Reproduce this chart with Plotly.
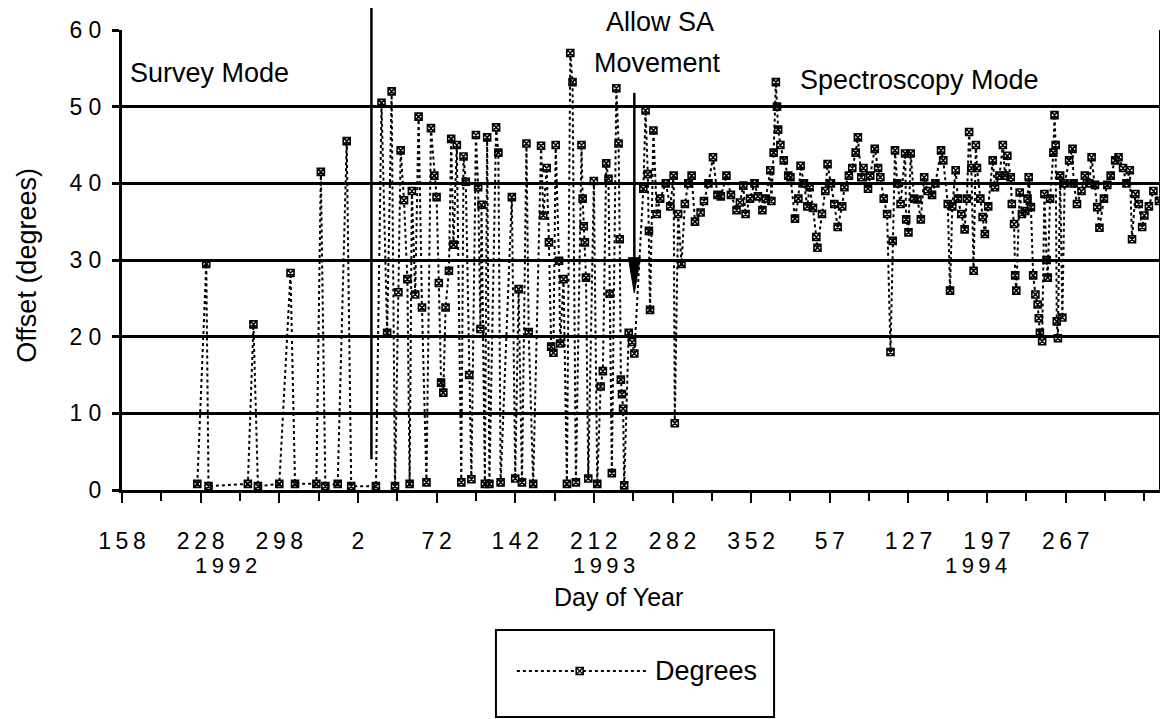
import plotly.graph_objects as go

# Day index = days elapsed since 1992 day-of-year 158
days = [
    67, 75, 77, 112, 117, 121, 140, 150, 154, 173, 177, 181, 192, 200, 204,
    226, 231, 236, 240, 243, 246, 248, 251, 254, 256, 258, 261, 264, 267, 271,
    275, 278, 280, 282, 284, 286, 288, 291, 293, 295, 298, 302, 304, 306, 309,
    311, 315, 317, 319, 320, 323, 325, 327, 333, 335, 337, 347, 350, 353, 356,
    360, 362, 366, 373, 375, 378, 380, 382, 384, 386, 389, 390, 393, 396, 399,
    401, 404, 409, 410, 411, 412, 413, 415, 420, 423, 426, 428, 431, 433, 434,
    436, 440, 442, 443, 444, 445, 446, 447, 451, 454, 456,
    464, 466, 468, 469, 470, 473, 476, 479, 484, 488, 491, 492, 495, 498, 501,
    504, 507, 510, 515, 518, 522, 526, 530, 533, 538, 542, 547, 550, 553, 555,
    559, 563, 566, 570, 573, 577, 578, 580, 582, 583, 584, 586, 589, 593, 595,
    599, 602, 604, 607, 610, 612, 615, 618, 619, 623, 626, 628, 631, 634, 637,
    641, 643, 647, 650, 653, 655, 658, 660, 664, 666, 670, 673, 675, 678, 681,
    684, 686, 688, 690, 693, 697, 698, 700, 702, 705, 708, 711, 714, 717, 721,
    724, 729, 731, 735, 737, 739, 742, 744, 747, 750, 752, 754, 756, 758, 760,
    761, 764, 766, 768, 771, 775, 777, 781, 784, 786, 788, 791, 792, 794, 795,
    796, 799, 801, 804, 806, 807, 809, 811, 813, 815, 816, 817, 819, 821, 823,
    824, 826, 829, 830, 831, 832, 833, 835, 837, 839, 843, 846, 847, 850, 854,
    857, 861, 863, 866, 868, 870, 874, 877, 880, 884, 887, 891, 894, 897, 899,
    902, 905, 908, 910, 914, 918, 923,
]
offset_deg = [
    0.8, 29.5, 0.5, 0.8, 21.6, 0.5, 0.8, 28.3, 0.8, 0.8, 41.5, 0.5, 0.8, 45.5, 0.5,
    0.5, 50.5, 20.5, 52.0, 0.5, 25.8, 44.3, 37.8, 27.5, 0.8, 39.0, 25.5, 48.7, 23.8, 1.0,
    47.2, 41.0, 38.2, 27.0, 14.0, 12.7, 23.8, 28.6, 45.8, 32.0, 45.0, 1.0, 43.5, 40.2, 15.0,
    1.4, 46.3, 39.5, 21.0, 37.2, 0.8, 46.0, 0.8, 47.3, 44.0, 1.0, 38.2, 1.5, 26.2, 1.0,
    45.2, 20.6, 0.8, 44.9, 35.8, 42.0, 32.3, 18.7, 17.9, 45.0, 29.9, 19.1, 27.5, 0.8, 57.0,
    53.2, 1.0, 45.0, 38.0, 34.4, 32.3, 27.7, 1.5, 40.3, 0.8, 13.5, 15.5, 42.6, 40.6, 25.6,
    2.2, 52.4, 45.2, 32.7, 14.4, 12.5, 10.6, 0.6, 20.5, 19.3, 17.8,
    39.3, 49.5, 41.2, 33.8, 23.5, 46.9, 36.0, 38.0, 40.0, 37.0, 41.0, 8.7, 36.0, 29.5, 37.3,
    40.0, 41.0, 35.0, 36.2, 37.7, 40.0, 43.4, 38.5, 38.3, 41.0, 38.5, 36.5, 37.5, 39.7, 36.0,
    38.0, 40.0, 38.3, 36.5, 38.0, 41.7, 37.7, 44.0, 53.2, 50.0, 47.0, 45.0, 43.0, 41.0, 40.8,
    35.4, 38.0, 42.3, 40.0, 37.0, 39.5, 36.8, 33.0, 31.6, 36.0, 39.0, 42.5, 40.0, 37.3, 34.3,
    37.0, 39.5, 41.0, 42.0, 44.0, 46.0, 40.8, 42.0, 39.3, 41.0, 44.5, 42.0, 40.8, 38.0, 36.0,
    18.0, 32.5, 44.3, 40.0, 37.3, 43.9, 35.3, 33.6, 43.9, 38.0, 37.9, 35.3, 40.8, 39.0, 38.5,
    40.0, 44.3, 43.0, 37.3, 26.0, 37.0, 41.7, 38.0, 36.0, 34.0, 38.0, 46.7, 42.0, 28.6, 45.0,
    42.0, 38.0, 35.6, 33.4, 37.0, 43.0, 39.5, 41.0, 45.0, 41.0, 43.6, 40.8, 37.3, 34.7, 28.0,
    26.0, 38.8, 36.0, 36.4, 38.0, 40.8, 36.9, 28.0, 25.5, 24.2, 22.4, 20.5, 19.4, 38.6, 30.0,
    27.7, 38.0, 44.0, 48.9, 45.0, 22.0, 19.8, 41.0, 22.5, 40.0, 43.0, 44.5, 40.0, 37.3, 39.0,
    41.0, 40.0, 43.4, 39.8, 36.9, 34.2, 38.0, 39.8, 41.0, 43.0, 43.4, 42.0, 40.0, 41.7, 32.7,
    38.6, 37.3, 34.3, 35.8, 37.0, 39.0, 37.7,
]

x_tick_days = [0, 70, 140, 210, 280, 350, 420, 490, 560, 630, 700, 770, 840]
x_tick_labels = ["158", "228", "298", "2", "72", "142", "212", "282", "352",
                 "57", "127", "197", "267"]
year_labels = ["1992", "1993", "1994"]
year_label_days = [93, 429, 760]
y_tick_vals = [0, 10, 20, 30, 40, 50, 60]
y_tick_labels = ["0", "10", "20", "30", "40", "50", "60"]

# Mode labels: (text, day index, paper-y)
mode_labels = ["Survey Mode", "Allow SA", "Movement", "Spectroscopy Mode"]
mode_label_days = [78, 479, 477, 710]
mode_label_py = [0.906, 1.017, 0.928, 0.891]

survey_end_day = 222
sa_allowed_day = 456

FONT = "Liberation Sans, Arial, Helvetica, sans-serif"
THIN = "\u2009"

fig = go.Figure()
fig.add_trace(go.Scatter(
    x=days, y=offset_deg, mode="lines+markers", name="Degrees",
    line=dict(color="black", width=2, dash="dot"),
    marker=dict(symbol="square-x-open", size=7, color="black",
                line=dict(width=1.6, color="black")),
    showlegend=False, cliponaxis=False,
))

shapes = [
    # End of survey mode
    dict(type="line", xref="x", yref="paper", x0=survey_end_day, x1=survey_end_day,
         y0=4 / 60, y1=1.054, line=dict(color="black", width=2.5)),
    # Allow SA movement arrow
    dict(type="line", xref="x", yref="y", x0=sa_allowed_day, x1=sa_allowed_day,
         y0=30.0, y1=51.8, line=dict(color="black", width=2.5)),
    dict(type="path", xref="x", yref="y",
         path=f"M {sa_allowed_day-5.3},30.3 L {sa_allowed_day+5.3},30.3 L {sa_allowed_day},25.7 Z",
         fillcolor="black", line=dict(color="black", width=1)),
    # Legend box
    dict(type="rect", xref="paper", yref="paper", x0=0.3606, x1=0.6288,
         y0=-0.3043, y1=-0.4935, line=dict(color="black", width=2)),
    dict(type="line", xref="paper", yref="paper", x0=0.3808, x1=0.5058,
         y0=-0.3935, y1=-0.3935, line=dict(color="black", width=2, dash="dot")),
    dict(type="rect", xref="paper", yref="paper", x0=0.4380, x1=0.4447,
         y0=-0.3859, y1=-0.4011, fillcolor="white", line=dict(color="black", width=1.6)),
    dict(type="line", xref="paper", yref="paper", x0=0.4380, x1=0.4447,
         y0=-0.3859, y1=-0.4011, line=dict(color="black", width=1.2)),
    dict(type="line", xref="paper", yref="paper", x0=0.4380, x1=0.4447,
         y0=-0.4011, y1=-0.3859, line=dict(color="black", width=1.2)),
]

annotations = []
for t, d, py in zip(mode_labels, mode_label_days, mode_label_py):
    annotations.append(dict(text=t, x=d, y=py, xref="x", yref="paper", showarrow=False,
                            font=dict(size=27, family=FONT, color="black"),
                            xanchor="center", yanchor="middle"))
for t, d in zip(year_labels, year_label_days):
    annotations.append(dict(text=THIN.join(t), x=d, y=-0.164, xref="x", yref="paper",
                            showarrow=False, font=dict(size=22, family=FONT, color="black"),
                            xanchor="center", yanchor="middle"))
annotations += [
    dict(text="Day of Year", x=0.479, y=-0.233, xref="paper", yref="paper", showarrow=False,
         font=dict(size=25, family=FONT, color="black"), xanchor="center", yanchor="middle"),
    dict(text="Offset (degrees)", x=-0.092, y=0.489, xref="paper", yref="paper",
         showarrow=False, textangle=-90,
         font=dict(size=27, family=FONT, color="black"), xanchor="center", yanchor="middle"),
    dict(text="Degrees", x=0.5125, y=-0.3935, xref="paper", yref="paper", showarrow=False,
         font=dict(size=27, family=FONT, color="black"), xanchor="left", yanchor="middle"),
]

fig.update_layout(
    width=1160, height=711,
    margin=dict(l=114, r=6, t=22, b=229),
    plot_bgcolor="white", paper_bgcolor="white",
    font=dict(family=FONT, color="black"),
    showlegend=False,
    shapes=shapes, annotations=annotations,
    xaxis=dict(
        range=[0, 923], tickmode="array", tickvals=x_tick_days,
        ticktext=[THIN.join(s) for s in x_tick_labels],
        ticks="outside", ticklen=10, tickwidth=2, tickcolor="black",
        showline=True, linecolor="black", linewidth=3,
        showgrid=False, zeroline=False,
        tickfont=dict(size=23, family=FONT, color="black"),
        ticklabelstandoff=18,
        minor=dict(dtick=35, tick0=0, ticks="outside", ticklen=8, tickwidth=2,
                   tickcolor="black", showgrid=False),
    ),
    yaxis=dict(
        range=[0, 60], tickmode="array", tickvals=y_tick_vals,
        ticktext=[" ".join(s) for s in y_tick_labels],
        ticks="outside", ticklen=7, tickwidth=3, tickcolor="black",
        showline=True, linecolor="black", linewidth=3, mirror=True,
        showgrid=True, gridcolor="black", gridwidth=3, zeroline=False,
        tickfont=dict(size=23, family=FONT, color="black"),
        ticklabelstandoff=6,
    ),
)

fig.write_html("out.html")
